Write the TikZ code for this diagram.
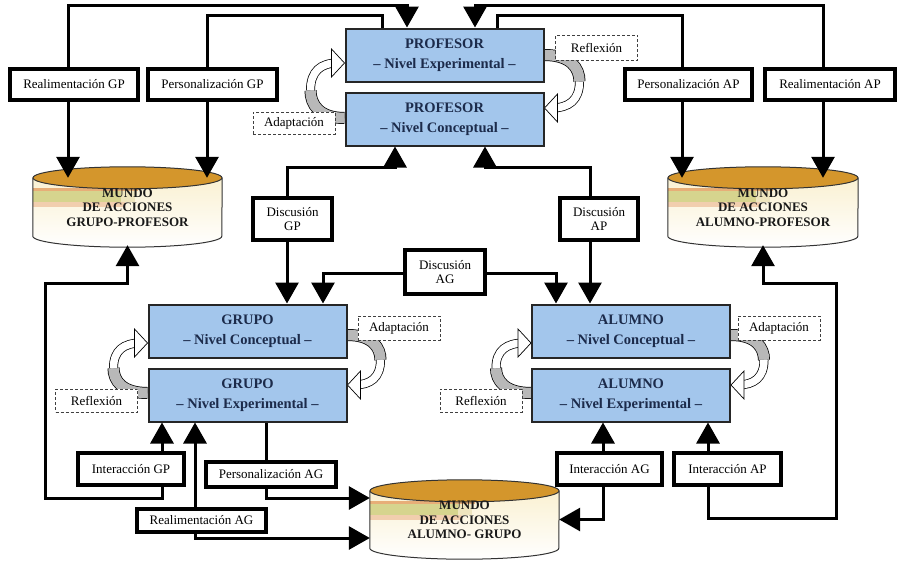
\documentclass[tikz,border=0pt]{standalone}
\usepackage{fontspec}
\setmainfont{Liberation Serif}
\usetikzlibrary{arrows.meta,calc}
\pgfdeclarelayer{fondo}
\pgfsetlayers{fondo,main}

\definecolor{azulnivel}{HTML}{A3C6EC}
\definecolor{textonivel}{HTML}{1C2B4B}
\definecolor{oro}{HTML}{D4962C}
\definecolor{cremamundo}{HTML}{FAF1D2}
\definecolor{franjanaranja}{HTML}{E7AE78}
\definecolor{franjaoliva}{HTML}{D6D48E}
\definecolor{franjaclara}{HTML}{EEE5BE}

\tikzset{
  con/.style={line width=3pt, draw=black},
  flecha/.style={-{Triangle[width=23pt,length=21pt]}},
  etiqueta/.style={draw, line width=3.2pt, fill=white, align=center, inner sep=2pt,
    font=\fontsize{13}{14}\selectfont},
  nivel/.style={draw=black!85, line width=2pt, fill=azulnivel, text=textonivel, align=center,
    minimum width=198pt, minimum height=53pt, font=\fontsize{14.5}{20}\selectfont\bfseries},
  proceso/.style={draw=black!75, dash pattern=on 3pt off 2pt, line width=1pt, fill=white,
    minimum width=82pt, minimum height=24pt, inner sep=1pt, font=\fontsize{13}{14}\selectfont},
  mundo/.style={minimum height=58pt, inner sep=0pt, text=black!90,
    font=\fontsize{13}{14.5}\selectfont\bfseries},
  cinta/.style={line width=7.5pt, draw=white, line cap=butt, preaction={draw=black, line width=9pt}},
  cintagris/.style={line width=10.5pt, draw=black!28, preaction={draw=black, line width=12pt}},
  punta/.style={draw=black, line width=0.7pt, fill=white, line join=miter}
}

% texto de los mundos, algo mas abajo
\newcommand{\rotulo}[1]{\raisebox{-2pt}[\height][\depth]{\begin{tabular}{@{}c@{}}#1\end{tabular}}}

% cilindro detras del nodo: nodo, radio x
\newcommand{\cilindro}[2]{%
  \begin{pgfonlayer}{fondo}
    \path[top color=cremamundo, bottom color=white] (#1.north west) -- (#1.south west)
      arc[start angle=180, end angle=360, x radius=#2pt, y radius=11pt] -- (#1.north east) -- cycle;
    \fill[franjanaranja] ([yshift=-10pt]#1.north west) rectangle ([xshift=105pt,yshift=-13pt]#1.north west);
    \fill[franjaoliva] ([yshift=-13pt]#1.north west) rectangle ([xshift=88pt,yshift=-24pt]#1.north west);
    \fill[franjaclara] ([xshift=88pt,yshift=-13pt]#1.north west) rectangle ([xshift=102pt,yshift=-24pt]#1.north west);
    \fill[franjanaranja!60] ([yshift=-24pt]#1.north west) rectangle ([xshift=92pt,yshift=-29pt]#1.north west);
    \draw[line width=1pt, draw=black!80] (#1.north west) -- (#1.south west)
      arc[start angle=180, end angle=360, x radius=#2pt, y radius=11pt] -- (#1.north east);
    \draw[line width=1pt, draw=black!80, fill=oro] (#1.north) ellipse[x radius=#2pt, y radius=11pt];
  \end{pgfonlayer}}

% flecha curva entre niveles: inicio, fin, curvatura, largo de punta
\newcommand{\giro}[4]{%
  \begin{pgfonlayer}{fondo}
    \draw[cintagris] (#1) .. controls ($(#1)+({0.75*(#3)},0)$) and ($(#1)!0.25!(#2)+(#3,0)$)
      .. ($(#1)!0.5!(#2)+(#3,0)$);
    \draw[cinta] ($(#1)!0.5!(#2)+(#3,0)$) .. controls ($(#1)!0.85!(#2)+(#3,0)$) and ($(#2)+({0.7*(#3)},0)$)
      .. ($(#2)+({0.2*(#3)},0)$);
    \filldraw[punta] (#2) -- ($(#2)+(#4,-14)$) -- ($(#2)+(#4,14)$) -- cycle;
  \end{pgfonlayer}}

\begin{document}
\begin{tikzpicture}[x=1pt,y=-1pt]
\useasboundingbox (0,0) rectangle (900,570);
\begin{pgfonlayer}{fondo}
  \fill[white] (0,0) rectangle (900,570);
\end{pgfonlayer}

% niveles
\node[nivel] (pe) at (444.5,55) {PROFESOR\\– Nivel Experimental –};
\node[nivel] (pc) at (444.5,119) {PROFESOR\\– Nivel Conceptual –};
\node[nivel] (gc) at (247.5,331) {GRUPO\\– Nivel Conceptual –};
\node[nivel] (ge) at (247.5,395) {GRUPO\\– Nivel Experimental –};
\node[nivel] (ac) at (631,331) {ALUMNO\\– Nivel Conceptual –};
\node[nivel] (ae) at (631,395) {ALUMNO\\– Nivel Experimental –};

% adaptacion y reflexion
\giro{[yshift=1pt]pc.west}{[yshift=-8pt]pe.west}{-34}{-13}
\giro{pe.east}{[yshift=11pt]pc.east}{35}{13}
\giro{[yshift=-4pt]gc.east}{[yshift=10pt]ge.east}{33}{13}
\giro{[yshift=2pt]ge.west}{[yshift=-12pt]gc.west}{-34}{-13}
\giro{[yshift=-4pt]ac.east}{[yshift=10pt]ae.east}{33}{13}
\giro{[yshift=2pt]ae.west}{[yshift=-12pt]ac.west}{-35}{-13}
\node[proceso, minimum height=22pt] (adp) at (294,123) {Adaptación};
\node[proceso, minimum height=25pt] (rfp) at (596.5,47.5) {Reflexión};
\node[proceso] (adg) at (399,328) {Adaptación};
\node[proceso, minimum height=23pt] (rfg) at (96.5,400.5) {Reflexión};
\node[proceso] (ada) at (779,328) {Adaptación};
\node[proceso, minimum height=23pt] (rfa) at (481,400.5) {Reflexión};

% mundos de acciones
\node[mundo, minimum width=189pt] (mgp) at (127.5,207) {\rotulo{MUNDO\\DE ACCIONES\\GRUPO-PROFESOR}};
\node[mundo, minimum width=190pt] (map) at (763,207) {\rotulo{MUNDO\\DE ACCIONES\\ALUMNO-PROFESOR}};
\node[mundo, minimum width=189pt, minimum height=57pt] (mag) at (464.5,519.5) {\rotulo{MUNDO\\DE ACCIONES\\ALUMNO- GRUPO}};
\cilindro{mgp}{94.5}
\cilindro{map}{95}
\cilindro{mag}{94.5}

% etiquetas
\node[etiqueta, minimum width=128pt, minimum height=31pt] (rgp) at (74,84.5) {Realimentación GP};
\node[etiqueta, minimum width=129pt, minimum height=31pt] (pgp) at (212.5,84.5) {Personalización GP};
\node[etiqueta, minimum width=127pt, minimum height=31pt] (pap) at (688.5,84.5) {Personalización AP};
\node[etiqueta, minimum width=130pt, minimum height=31pt] (rap) at (830,84.5) {Realimentación AP};
\node[etiqueta, minimum width=79pt, minimum height=42pt] (dgp) at (292.5,219) {Discusión\\GP};
\node[etiqueta, minimum width=78pt, minimum height=42pt] (dap) at (599,219) {Discusión\\AP};
\node[etiqueta, minimum width=80pt, minimum height=44pt] (dag) at (445,272) {Discusión\\AG};
\node[etiqueta, minimum width=106pt, minimum height=32pt] (igp) at (131,469) {Interacción GP};
\node[etiqueta, minimum width=130pt, minimum height=25pt] (pag) at (271,474.5) {Personalización AG};
\node[etiqueta, minimum width=129pt, minimum height=23pt] (rag) at (201.5,520.5) {Realimentación AG};
\node[etiqueta, minimum width=105pt, minimum height=32pt] (iag) at (609.5,469) {Interacción AG};
\node[etiqueta, minimum width=107pt, minimum height=32pt] (iap) at (727.5,469) {Interacción AP};

% profesor - mundos
\draw[con,flecha] ([xshift=-6pt]rgp.north) |- ([xshift=-37.5pt,yshift=22pt]pe.north) -- ([xshift=-37.5pt]pe.north);
\draw[con,flecha] ([xshift=-6pt]rgp.south) -- ([xshift=-6pt]rgp.south |- mgp.north);
\draw[con] ([xshift=-5.5pt]pgp.north) |- ([xshift=-62.5pt,yshift=12pt]pe.north) -- ([xshift=-62.5pt]pe.north);
\draw[con,flecha] ([xshift=-5.5pt]pgp.south) -- ([xshift=-5.5pt]pgp.south |- mgp.north);
\draw[con] ([xshift=-6.5pt]pap.north) |- ([xshift=52.5pt,yshift=12pt]pe.north) -- ([xshift=52.5pt]pe.north);
\draw[con,flecha] ([xshift=-6.5pt]pap.south) -- ([xshift=-6.5pt]pap.south |- map.north);
\draw[con,flecha] ([xshift=-7pt]rap.north) |- ([xshift=30.5pt,yshift=22pt]pe.north) -- ([xshift=30.5pt]pe.north);
\draw[con,flecha] ([xshift=-7pt]rap.south) -- ([xshift=-7pt]rap.south |- map.north);

% discusiones
\draw[con,flecha] ([xshift=-5.5pt]dgp.north) |- ([xshift=-49.5pt,yshift=-21pt]pc.south) -- ([xshift=-49.5pt]pc.south);
\draw[con,flecha] ([xshift=-5.5pt]dgp.south) -- ([xshift=-5.5pt]dgp.south |- gc.north);
\draw[con,flecha] ([xshift=-9pt]dap.north) |- ([xshift=40.5pt,yshift=-21pt]pc.south) -- ([xshift=40.5pt]pc.south);
\draw[con,flecha] ([xshift=-9pt]dap.south) -- ([xshift=-9pt]dap.south |- ac.north);
\draw[con,flecha] ([yshift=-1pt]dag.west) -| ([xshift=75.5pt]gc.north);
\draw[con,flecha] ([yshift=-1pt]dag.east) -| ([xshift=-75pt]ac.north);

% interacciones
\draw[con,flecha] ([xshift=31pt]igp.north) -- ([xshift=31pt]igp.north |- ge.south);
\draw[con,flecha] ([xshift=31pt]igp.south) -- ++(0,12) -| ++(-117,-215) -| ([yshift=-9pt]mgp.south);
\draw[con,flecha] ([xshift=-6.5pt]rag.north) -- ([xshift=-6.5pt]rag.north |- ge.south);
\draw[con,flecha] ([xshift=-6.5pt]rag.south) |- ([yshift=-18.5pt]mag.west);
\draw[con] ([xshift=-5pt]pag.north) -- ([xshift=-5pt]pag.north |- ge.south);
\draw[con,flecha] ([xshift=-5pt]pag.south) |- ([yshift=21.5pt]mag.west);
\draw[con,flecha] ([xshift=-6.5pt]iag.north) -- ([xshift=-6.5pt]iag.north |- ae.south);
\draw[con,flecha] ([xshift=-6.5pt]iag.south) |- (mag.east);
\draw[con,flecha] ([xshift=-19.5pt]iap.north) -- ([xshift=-19.5pt]iap.north |- ae.south);
\draw[con,flecha] ([xshift=-19.5pt]iap.south) -- ++(0,32) -| ++(128,-235) -| ([yshift=-9pt]map.south);
\end{tikzpicture}
\end{document}
